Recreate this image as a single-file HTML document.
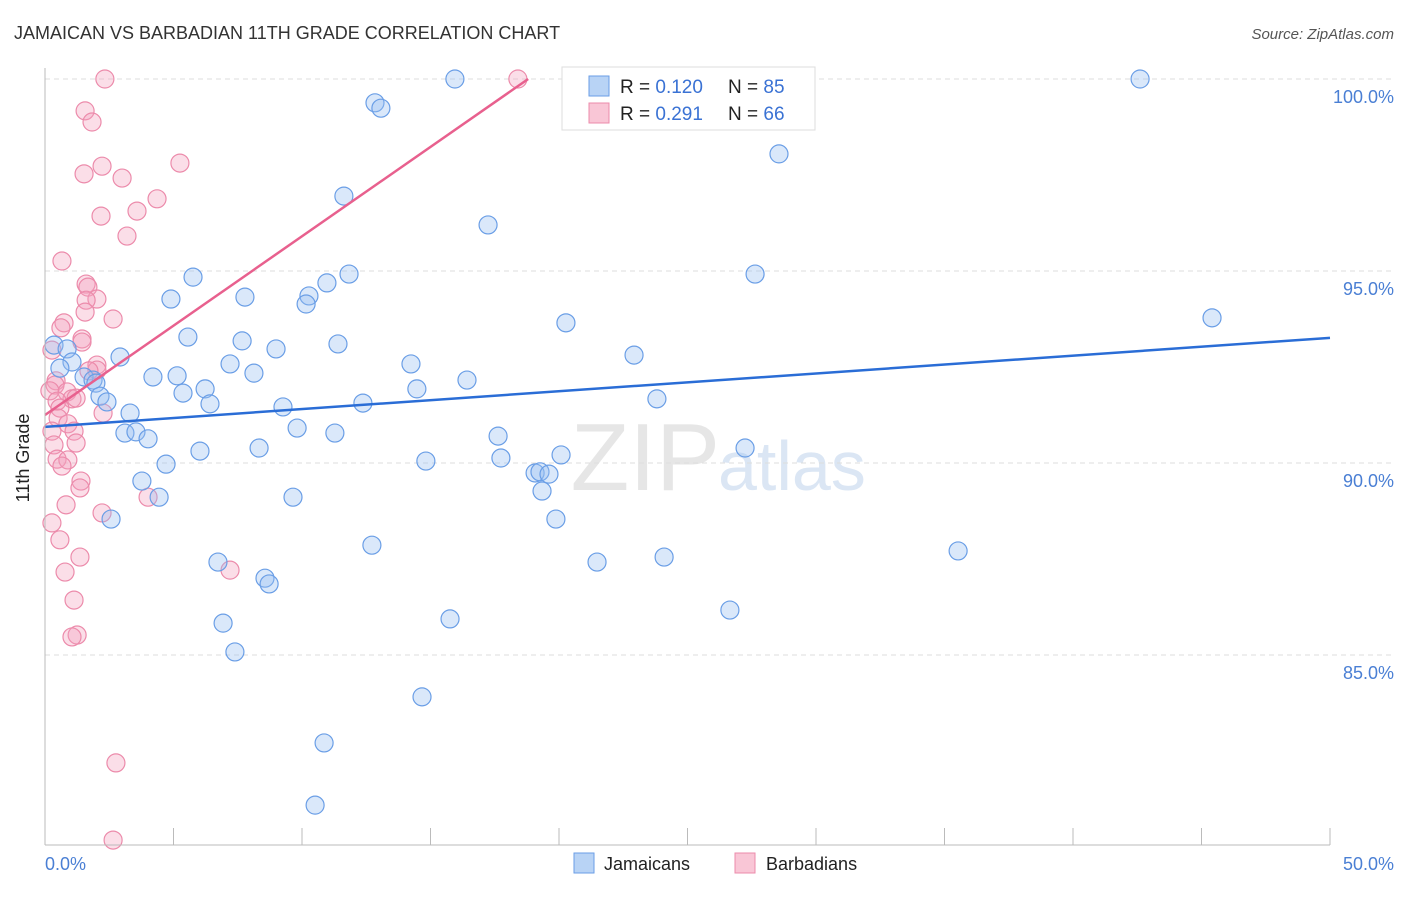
<!DOCTYPE html>
<html><head><meta charset="utf-8"><style>
body{margin:0;background:#fff;font-family:"Liberation Sans",sans-serif;}
svg text{font-family:"Liberation Sans",sans-serif;}
</style></head><body>
<svg id="c" width="1406" height="892">
<text x="14" y="39" font-size="18" fill="#333">JAMAICAN VS BARBADIAN 11TH GRADE CORRELATION CHART</text>
<text x="1394" y="39" font-size="15" fill="#555" font-style="italic" text-anchor="end">Source: ZipAtlas.com</text>
<text x="720" y="490" font-size="96" fill="#e6e6e6" text-anchor="end" font-family="Liberation Serif">ZIP</text>
<text x="718" y="490" font-size="70" fill="#dbe6f4">atlas</text>
<g id="grid"></g><g id="pts"></g><g id="trend"></g>
<line x1="45" y1="68" x2="45" y2="845" stroke="#bbb"/>
<line x1="45" y1="845" x2="1330" y2="845" stroke="#bbb"/>
<text x="29" y="458" font-size="18" fill="#222" text-anchor="middle" transform="rotate(-90 29 458)">11th Grade</text>
<text x="45" y="870" font-size="18" fill="#4a7fd4">0.0%</text>
<text x="1394" y="870" font-size="18" fill="#4a7fd4" text-anchor="end">50.0%</text>
<g>
<rect x="562" y="67" width="253" height="63" fill="#fff" stroke="#ddd"/>
<rect x="589" y="76" width="20" height="20" fill="#b8d3f5" stroke="#6a9ee6"/>
<rect x="589" y="103" width="20" height="20" fill="#f9c6d6" stroke="#ec8bab"/>
<text x="620" y="93" font-size="19" fill="#222">R = <tspan fill="#3a72d4">0.120</tspan></text>
<text x="728" y="93" font-size="19" fill="#222">N = <tspan fill="#3a72d4">85</tspan></text>
<text x="620" y="120" font-size="19" fill="#222">R = <tspan fill="#3a72d4">0.291</tspan></text>
<text x="728" y="120" font-size="19" fill="#222">N = <tspan fill="#3a72d4">66</tspan></text>
</g>
<g>
<rect x="574" y="853" width="20" height="20" fill="#b8d3f5" stroke="#6a9ee6"/>
<text x="604" y="870" font-size="18" fill="#222">Jamaicans</text>
<rect x="735" y="853" width="20" height="20" fill="#f9c6d6" stroke="#ec8bab"/>
<text x="766" y="870" font-size="18" fill="#222">Barbadians</text>
</g>
</svg>
<script>
const yTicks=[100,95,90,85];
const yTickLabels=["100.0%","95.0%","90.0%","85.0%"];
const xTicks=[0,5,10,15,20,25,30,35,40,45,50];
const jamX=[15.95,26.54,42.61,12.84,13.07,28.56,11.63,17.24,11.83,5.76,27.63,10.97,7.78,4.9,10.27,10.16,45.41,20.27,5.56,7.67,11.4,0.35,0.86,8.99,22.92,2.92,1.05,14.24,7.2,0.58,8.13,4.2,5.14,1.52,1.87,16.42,1.98,6.23,5.37,14.47,2.14,2.41,23.81,6.42,12.37,9.26,3.31,9.81,3.11,3.54,11.28,4.01,17.63,6.03,8.33,27.24,20.08,4.71,14.82,17.74,19.07,19.26,19.61,3.77,19.34,4.44,9.65,2.57,19.88,12.72,35.53,24.09,6.73,21.48,8.56,8.72,26.65,6.93,15.76,7.39,14.67,10.86,10.51];
const jamY=[100,100,100,99.38,99.24,98.05,96.95,96.2,94.92,94.84,94.92,94.69,94.32,94.27,94.35,94.14,93.78,93.65,93.28,93.18,93.1,93.07,92.97,92.97,92.81,92.76,92.63,92.58,92.58,92.47,92.34,92.24,92.27,92.24,92.16,92.16,92.08,91.93,91.82,91.93,91.74,91.59,91.67,91.54,91.56,91.46,91.3,90.91,90.78,90.81,90.78,90.63,90.7,90.31,90.39,90.39,90.21,89.97,90.05,90.13,89.74,89.77,89.71,89.53,89.27,89.11,89.11,88.54,88.54,87.86,87.71,87.55,87.42,87.42,87.0,86.85,86.17,85.83,85.94,85.08,83.91,82.71,81.09];
const barX=[2.33,18.4,1.56,1.83,2.22,5.25,1.52,3.0,4.36,3.58,2.18,3.19,0.66,1.6,1.67,2.02,1.6,1.56,2.65,0.74,0.62,1.44,1.44,0.27,2.02,2.02,1.71,0.43,0.39,0.19,0.86,1.05,0.47,1.21,0.58,2.26,0.51,0.89,1.13,0.27,0.35,1.21,0.47,0.89,0.66,1.4,1.36,4.01,0.82,2.22,0.27,0.58,1.36,0.78,7.2,1.13,1.25,1.05,2.76,2.65];
const barY=[100,100,99.17,98.88,97.73,97.81,97.53,97.42,96.88,96.56,96.43,95.91,95.26,94.66,94.58,94.27,94.24,93.93,93.75,93.65,93.52,93.23,93.15,92.94,92.55,92.42,92.4,92.14,92.03,91.88,91.85,91.67,91.61,91.69,91.43,91.3,91.17,91.02,90.83,90.83,90.47,90.52,90.1,90.08,89.92,89.53,89.35,89.11,88.91,88.7,88.44,88.0,87.55,87.16,87.21,86.43,85.52,85.47,82.19,80.18];
const jamTrendX=[0,50], jamTrendY=[90.94,93.26];
const barTrendX=[0,18.8], barTrendY=[91.25,100];
const NS="http://www.w3.org/2000/svg";
const sx=v=>45+v*25.7, sy=v=>79+(100-v)*38.4;
function mk(tag,attrs,parent){const e=document.createElementNS(NS,tag);for(const k in attrs)e.setAttribute(k,attrs[k]);parent.appendChild(e);return e;}
const grid=document.getElementById('grid');
yTicks.forEach((t,i)=>{
 const l=mk('line',{x1:45,x2:1395,y1:sy(t),y2:sy(t),stroke:'#ddd','stroke-dasharray':'5,4'},grid);
 
 
 const tx=mk('text',{x:1394,y:sy(t)+24,'font-size':18,fill:'#4a7fd4','text-anchor':'end'},grid);
 tx.textContent=yTickLabels[i];
 
 
});
xTicks.forEach(t=>{
 const l=mk('line',{x1:sx(t),x2:sx(t),y1:828,y2:845,stroke:'#bbb'},grid);
 
 
});
const pts=document.getElementById('pts');
barX.forEach((x,i)=>{
 const c=mk('circle',{cx:sx(x),cy:sy(barY[i]),r:9,fill:'rgba(244,160,188,0.35)',stroke:'#ec8bab','stroke-width':1.2},pts);
 
 
});
jamX.forEach((x,i)=>{
 const c=mk('circle',{cx:sx(x),cy:sy(jamY[i]),r:9,fill:'rgba(150,190,240,0.35)',stroke:'#6a9ee6','stroke-width':1.2},pts);
 
 
});
const tr=document.getElementById('trend');
const l1=mk('line',{x1:sx(jamTrendX[0]),y1:sy(jamTrendY[0]),x2:sx(jamTrendX[1]),y2:sy(jamTrendY[1]),stroke:'#2a6dd6','stroke-width':2.5},tr);


const l2=mk('line',{x1:sx(barTrendX[0]),y1:sy(barTrendY[0]),x2:sx(barTrendX[1]),y2:sy(barTrendY[1]),stroke:'#e8608e','stroke-width':2.5},tr);


</script>
</body></html>
